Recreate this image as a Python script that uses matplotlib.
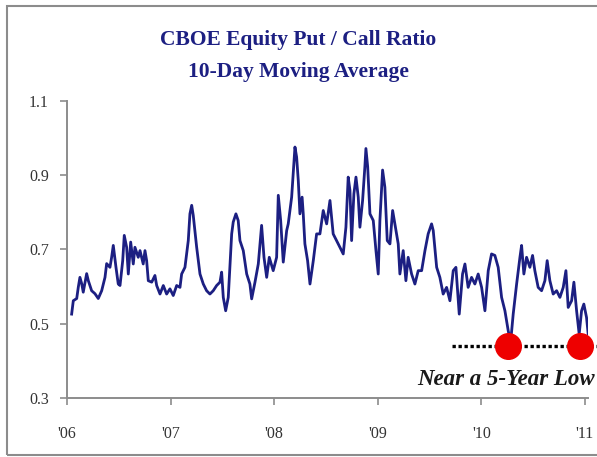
import matplotlib
matplotlib.use("Agg")
import matplotlib.pyplot as plt
from matplotlib.patches import Rectangle

# years since 2006 (decimal) and 10-day moving average of the equity put/call ratio
years = [
    0.045, 0.061, 0.094, 0.109, 0.125, 0.142, 0.157, 0.190, 0.206, 0.238,
    0.270, 0.302, 0.335, 0.367, 0.383, 0.415, 0.431, 0.447, 0.473, 0.495,
    0.512, 0.538, 0.553, 0.576, 0.592, 0.615, 0.640, 0.656, 0.688, 0.705,
    0.736, 0.753, 0.769, 0.785, 0.818, 0.849, 0.866, 0.898, 0.930, 0.962,
    0.994, 1.026, 1.059, 1.091, 1.107, 1.139, 1.171, 1.187, 1.204, 1.219,
    1.252, 1.284, 1.316, 1.348, 1.380, 1.412, 1.445, 1.477, 1.493, 1.509,
    1.532, 1.557, 1.590, 1.605, 1.631, 1.653, 1.670, 1.702, 1.735, 1.766,
    1.783, 1.815, 1.847, 1.879, 1.902, 1.928, 1.953, 1.991, 2.024, 2.040,
    2.063, 2.088, 2.121, 2.136, 2.169, 2.201, 2.217, 2.233, 2.249, 2.270,
    2.281, 2.297, 2.323, 2.346, 2.378, 2.410, 2.442, 2.474, 2.507, 2.539,
    2.570, 2.603, 2.635, 2.667, 2.693, 2.715, 2.732, 2.748, 2.770, 2.790,
    2.812, 2.828, 2.854, 2.876, 2.886, 2.903, 2.925, 2.957, 2.983, 3.005,
    3.021, 3.047, 3.069, 3.092, 3.118, 3.144, 3.166, 3.198, 3.214, 3.246,
    3.272, 3.294, 3.327, 3.359, 3.391, 3.424, 3.456, 3.487, 3.520, 3.536,
    3.569, 3.600, 3.632, 3.665, 3.697, 3.729, 3.755, 3.787, 3.819, 3.842,
    3.873, 3.906, 3.938, 3.970, 4.003, 4.035, 4.067, 4.099, 4.131, 4.163,
    4.196, 4.228, 4.260, 4.283, 4.308, 4.341, 4.373, 4.389, 4.411, 4.437,
    4.469, 4.495, 4.517, 4.549, 4.582, 4.614, 4.636, 4.662, 4.694, 4.727,
    4.759, 4.791, 4.817, 4.839, 4.872, 4.894, 4.920, 4.945, 4.968, 4.990,
    5.016, 5.032,
]
ratio = [
    0.526, 0.562, 0.568, 0.598, 0.625, 0.608, 0.585, 0.635, 0.616, 0.589,
    0.581, 0.568, 0.589, 0.625, 0.662, 0.652, 0.679, 0.711, 0.652, 0.607,
    0.603, 0.670, 0.738, 0.706, 0.634, 0.720, 0.661, 0.706, 0.679, 0.697,
    0.661, 0.697, 0.670, 0.616, 0.612, 0.630, 0.603, 0.580, 0.603, 0.580,
    0.594, 0.576, 0.603, 0.598, 0.634, 0.652, 0.724, 0.796, 0.819, 0.792,
    0.706, 0.634, 0.607, 0.589, 0.580, 0.589, 0.603, 0.612, 0.639, 0.571,
    0.535, 0.571, 0.742, 0.774, 0.796, 0.778, 0.724, 0.697, 0.634, 0.607,
    0.567, 0.612, 0.661, 0.765, 0.679, 0.625, 0.679, 0.643, 0.679, 0.846,
    0.778, 0.666, 0.751, 0.769, 0.841, 0.976, 0.949, 0.886, 0.796, 0.841,
    0.796, 0.715, 0.670, 0.607, 0.670, 0.742, 0.742, 0.805, 0.769, 0.832,
    0.742, 0.724, 0.706, 0.688, 0.760, 0.895, 0.859, 0.724, 0.850, 0.895,
    0.841, 0.760, 0.832, 0.923, 0.972, 0.923, 0.796, 0.778, 0.697, 0.634,
    0.778, 0.914, 0.868, 0.724, 0.715, 0.805, 0.769, 0.715, 0.634, 0.697,
    0.616, 0.679, 0.634, 0.607, 0.643, 0.643, 0.697, 0.742, 0.769, 0.751,
    0.652, 0.625, 0.580, 0.598, 0.562, 0.643, 0.652, 0.526, 0.634, 0.661,
    0.598, 0.625, 0.607, 0.634, 0.598, 0.535, 0.643, 0.688, 0.684, 0.652,
    0.571, 0.535, 0.481, 0.450, 0.526, 0.607, 0.679, 0.711, 0.634, 0.679,
    0.652, 0.684, 0.643, 0.598, 0.589, 0.616, 0.670, 0.616, 0.580, 0.589,
    0.571, 0.598, 0.643, 0.544, 0.562, 0.612, 0.535, 0.472, 0.535, 0.553,
    0.517, 0.472,
]

low_level = 0.44
low_years = [4.26, 4.95]
year_ticks = [2006, 2007, 2008, 2009, 2010, 2011]
year_labels = ["'06", "'07", "'08", "'09", "'10", "'11"]
y_ticks = [0.3, 0.5, 0.7, 0.9, 1.1]

navy = "#1c1f82"
grey = "#8c8c8c"
serif = ["Liberation Serif", "DejaVu Serif"]

fig = plt.figure(figsize=(5.97, 4.57), dpi=100)
ax = fig.add_axes([0.1122, 0.1291, 0.8727, 0.6499])

x = [2006 + t for t in years]
ax.plot(x, ratio, color=navy, lw=2.0, zorder=3)

ax.plot([2006 + 3.716, 2006 + 5.12], [low_level, low_level], color="black",
        lw=2.4, ls=(0, (1, 0.8)), clip_on=False, zorder=2)
ax.scatter([2006 + t for t in low_years], [low_level] * len(low_years),
           s=340, color="#ee0000", zorder=4, clip_on=False)
ax.text(2006 + 5.097, 0.351, "Near a 5-Year Low", ha="right", va="center",
        fontsize=16.5, fontstyle="italic", fontweight="bold", family=serif,
        color="#1a1a1a")

ax.set_xlim(2006, 2011.03)
ax.set_ylim(0.3, 1.1)
ax.set_xticks(year_ticks)
ax.set_xticklabels(year_labels)
ax.set_yticks(y_ticks)
ax.set_yticklabels([f"{v:.1f}" for v in y_ticks])
for lab in ax.get_xticklabels() + ax.get_yticklabels():
    lab.set_family(serif)
    lab.set_fontsize(11.5)
    lab.set_color("#333333")
ax.tick_params(axis="x", direction="out", length=5, width=1.2, color=grey, pad=15)
ax.tick_params(axis="y", direction="out", length=5, width=1.2, color=grey, pad=8)
for side in ("top", "right"):
    ax.spines[side].set_visible(False)
for side in ("left", "bottom"):
    ax.spines[side].set_color(grey)
    ax.spines[side].set_linewidth(1.4)

fig.text(0.5, 1 - 40 / 457, "CBOE Equity Put / Call Ratio", ha="center", va="center",
         fontsize=15.5, fontweight="bold", family=serif, color=navy)
fig.text(0.5, 1 - 72 / 457, "10-Day Moving Average", ha="center", va="center",
         fontsize=15.5, fontweight="bold", family=serif, color=navy)

# outer frame of the original picture (right edge is cut off)
fig.patches.append(Rectangle((7 / 597, 2 / 457), 1.0, 449 / 457, transform=fig.transFigure,
                             fill=False, edgecolor=grey, lw=1.5))

fig.savefig("out.png", dpi=100)
